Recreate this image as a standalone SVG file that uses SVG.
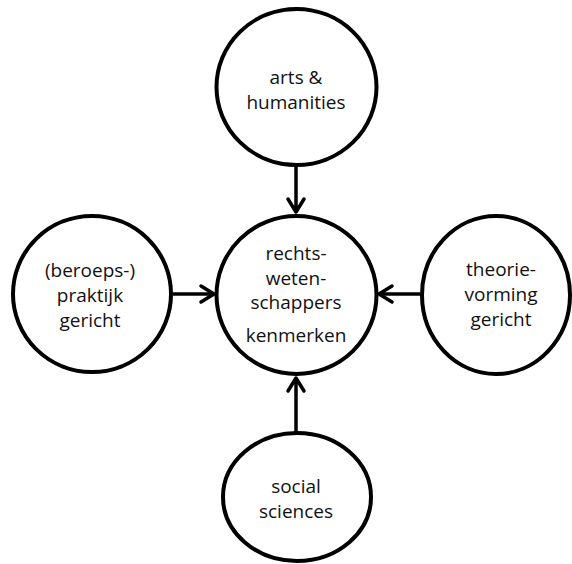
<svg xmlns="http://www.w3.org/2000/svg" width="572" height="564" viewBox="0 0 572 564">
<style>
.n{fill:#fff;stroke:#000;stroke-width:4}
.t{font-family:"Open Sans","Liberation Sans",sans-serif;font-size:19px;fill:#111;text-anchor:middle}
.c{fill:none;stroke:#000;stroke-width:3.5}
.h{fill:none;stroke:#000;stroke-width:3.5;stroke-linecap:round;stroke-linejoin:round}
</style>
<rect width="572" height="564" fill="#fff"/>
<g id="connectors">
<line class="c" x1="296" y1="163" x2="296" y2="212"/>
<polyline class="h" points="288,199 296,212 304,199"/>
<line class="c" x1="173" y1="294" x2="213" y2="294"/>
<polyline class="h" points="201,286 214,294 201,302"/>
<line class="c" x1="420" y1="294" x2="379" y2="294"/>
<polyline class="h" points="392,286 379,294 392,302"/>
<line class="c" x1="296" y1="432" x2="296" y2="378"/>
<polyline class="h" points="288,391 296,378 304,391"/>
</g>
<g id="arts">
<ellipse class="n" cx="296.5" cy="87" rx="80" ry="78"/>
<text class="t" x="296" y="84">arts &amp;</text>
<text class="t" x="296" y="109">humanities</text>
</g>
<g id="center">
<ellipse class="n" cx="296.5" cy="295" rx="80" ry="79"/>
<text class="t" x="296" y="260">rechts-</text>
<text class="t" x="296" y="285">weten-</text>
<text class="t" x="296" y="309">schappers</text>
<text class="t" x="296" y="342">kenmerken</text>
</g>
<g id="praktijk">
<ellipse class="n" cx="92" cy="294" rx="79" ry="78"/>
<text class="t" x="90" y="277">(beroeps-)</text>
<text class="t" x="90" y="302">praktijk</text>
<text class="t" x="90" y="327">gericht</text>
</g>
<g id="theorie">
<ellipse class="n" cx="496" cy="295" rx="74" ry="79"/>
<text class="t" x="501" y="276">theorie-</text>
<text class="t" x="501" y="301">vorming</text>
<text class="t" x="501" y="326">gericht</text>
</g>
<g id="social">
<ellipse class="n" cx="297" cy="497" rx="74" ry="64"/>
<text class="t" x="296" y="493">social</text>
<text class="t" x="296" y="518">sciences</text>
</g>
</svg>
